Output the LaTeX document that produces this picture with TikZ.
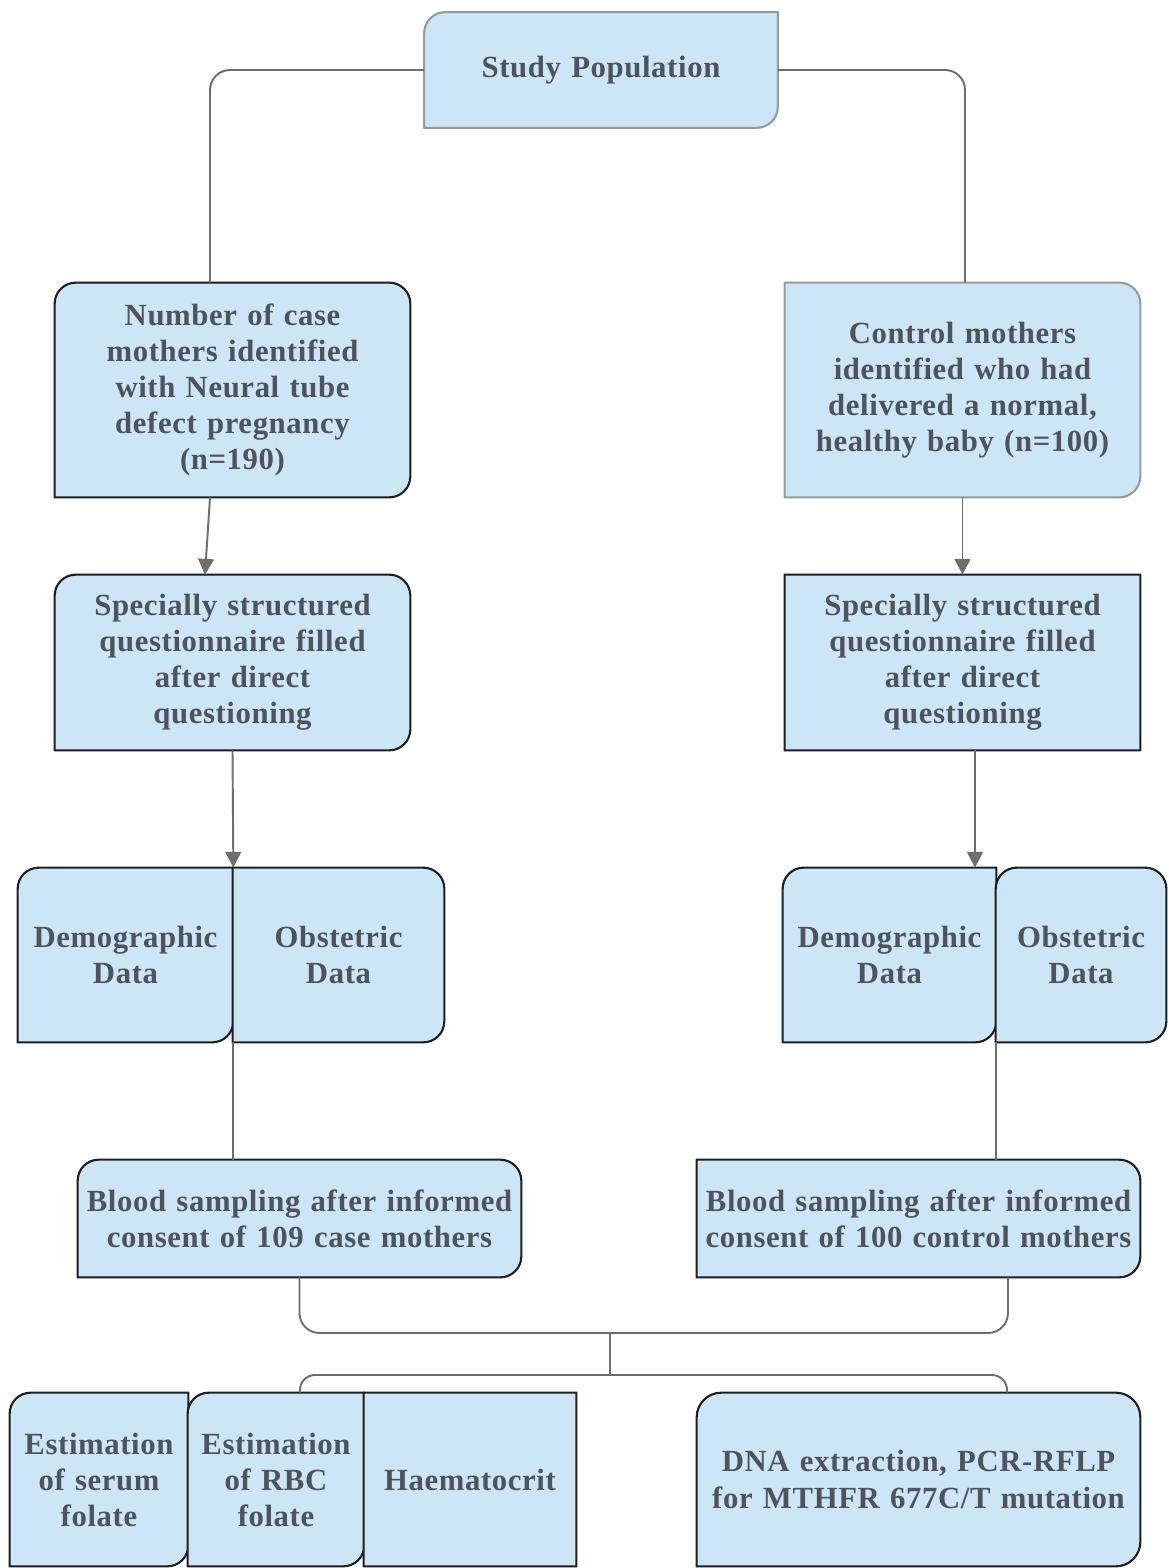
\documentclass[tikz,border=0pt]{standalone}
\usepackage{fontspec}
\setmainfont{Liberation Serif}[LetterSpace=2]
\usetikzlibrary{arrows.meta,backgrounds}
\definecolor{boxfill}{HTML}{CCE5F7}
\definecolor{inkgray}{HTML}{4E535E}
\definecolor{wiregray}{HTML}{6E6E6E}
\definecolor{edgegray}{HTML}{9A9A9A}
\definecolor{edgeblack}{HTML}{1E1E1E}
\tikzset{
  box/.style={inner sep=0pt, align=center, text=inkgray,
    font=\bfseries\fontsize{17.5}{20.5}\selectfont},
  sz/.style 2 args={text width=#1cm, minimum height=#2cm},
  outline/.style={fill=boxfill, line width=1.2pt},
  conn/.style={draw=wiregray, line width=1.1pt},
  arr/.style={conn, -{Triangle[width=9pt,length=9pt]}},
}
\begin{document}
\begin{tikzpicture}
\useasboundingbox (0,0) rectangle (23.36,-31.36);
% boxes
\node[box, sz={7.06}{2.3}] (study) at (12.02,-1.40) {Study Population};
\node[box, sz={7.1}{4.28}] (case) at (4.65,-7.8) {Number of case\\mothers identified\\with Neural tube\\defect pregnancy\\(n=190)};
\node[box, sz={7.1}{4.28}] (control) at (19.25,-7.8) {Control mothers\\identified who had\\delivered a normal,\\healthy baby (n=100)};
\node[box, sz={7.1}{3.5}] (quesL) at (4.65,-13.25) {Specially structured\\questionnaire filled\\after direct\\questioning};
\node[box, sz={7.1}{3.5}] (quesR) at (19.25,-13.25) {Specially structured\\questionnaire filled\\after direct\\questioning};
\node[box, sz={4.3}{3.48}] (demoL) at (2.51,-19.1) {Demographic\\Data\\[1.2cm]};
\node[box, sz={4.22}{3.48}] (obstL) at (6.77,-19.1) {Obstetric\\Data\\[1.2cm]};
\node[box, sz={4.26}{3.48}] (demoR) at (17.79,-19.1) {Demographic\\Data\\[1.2cm]};
\node[box, sz={3.4}{3.48}] (obstR) at (21.62,-19.1) {Obstetric\\Data\\[1.2cm]};
\node[box, sz={8.86}{2.34}] (bloodL) at (5.99,-24.37) {Blood sampling after informed\\consent of 109 case mothers};
\node[box, sz={8.86}{2.34}] (bloodR) at (18.37,-24.37) {Blood sampling after informed\\consent of 100 control mothers};
\node[box, sz={3.56}{3.46}] (serum) at (1.98,-29.59) {Estimation\\of serum\\folate};
\node[box, sz={3.52}{3.46}] (rbc) at (5.52,-29.59) {Estimation\\of RBC\\folate};
\node[box, sz={4.24}{3.46}] (haem) at (9.4,-29.59) {Haematocrit};
\node[box, sz={8.86}{3.46}] (dna) at (18.37,-29.59) {DNA extraction, PCR-RFLP\\for MTHFR 677C/T mutation};

% outlines, corners NW/NE/SE/SW
\begin{scope}[on background layer]
\foreach \n/\a/\b/\c/\d/\e in {study/12pt/0.1pt/12pt/0.1pt/edgegray,
    case/12pt/12pt/12pt/0.1pt/edgeblack, control/0.1pt/12pt/12pt/0.1pt/edgegray,
    quesL/12pt/12pt/12pt/0.1pt/edgeblack, quesR/0.1pt/0.1pt/0.1pt/0.1pt/edgeblack,
    demoL/12pt/0.1pt/12pt/0.1pt/edgeblack, obstL/0.1pt/12pt/12pt/0.1pt/edgeblack,
    demoR/12pt/0.1pt/12pt/0.1pt/edgeblack, obstR/12pt/12pt/12pt/0.1pt/edgeblack,
    bloodL/12pt/12pt/12pt/0.1pt/edgeblack, bloodR/0.1pt/12pt/12pt/0.1pt/edgeblack,
    serum/12pt/0.1pt/12pt/0.1pt/edgeblack, rbc/12pt/0.1pt/12pt/0.1pt/edgeblack,
    haem/0.1pt/0.1pt/0.1pt/0.1pt/edgeblack, dna/14pt/14pt/14pt/0.1pt/edgeblack}
  \filldraw[outline, draw=\e] (\n.west)
    {[rounded corners=\a] |- (\n.north)} {[rounded corners=\b] -| (\n.east)}
    {[rounded corners=\c] |- (\n.south)} {[rounded corners=\d] -| (\n.west)} -- cycle;
\end{scope}

% connectors
\draw[conn, rounded corners=0.4cm] (study.west) -| ([xshift=-0.45cm]case.north);
\draw[conn, rounded corners=0.4cm] (study.east) -| ([xshift=0.05cm]control.north);
\draw[arr] ([xshift=-0.45cm]case.south) -- ([xshift=-0.55cm]quesL.north);
\draw[arr] (control.south) -- (quesR.north);
\draw[arr] (quesL.south) -- (demoL.north east);
\draw[arr] ([xshift=0.25cm]quesR.south) -- ([xshift=0.25cm]quesR.south |- demoR.north);
\draw[conn] (demoL.south east) -- (demoL.south east |- bloodL.north);
\draw[conn] (demoR.south east) -- (demoR.south east |- bloodR.north);
\coordinate (merge) at (12.2,-26.66);
\coordinate (split) at (12.2,-27.5);
\draw[conn, rounded corners=0.4cm] (bloodL.south) |- (merge) -| ([xshift=1.79cm]bloodR.south);
\draw[conn] (merge) -- (split);
\draw[conn, rounded corners=0.3cm] ([xshift=0.48cm]rbc.north) |- (split) -| ([xshift=1.77cm]dna.north);
\end{tikzpicture}
\end{document}
